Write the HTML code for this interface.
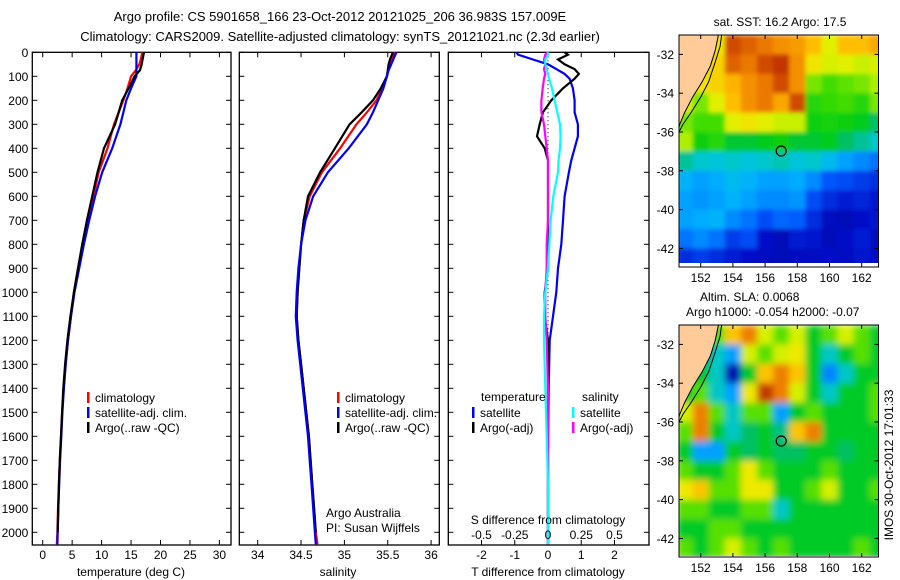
<!DOCTYPE html>
<html><head><meta charset="utf-8">
<style>
html,body{margin:0;padding:0;background:#fff;}
svg{display:block;font-family:"Liberation Sans",sans-serif;}
text{fill:#000;}
</style></head>
<body>
<svg id="fig" width="900" height="580" viewBox="0 0 900 580" xmlns="http://www.w3.org/2000/svg">
<defs>
<filter id="blurSst" x="-5%" y="-5%" width="110%" height="110%"><feGaussianBlur stdDeviation="2" edgeMode="duplicate"/></filter>
<filter id="blurSla" x="-5%" y="-5%" width="110%" height="110%"><feGaussianBlur stdDeviation="3.5" edgeMode="duplicate"/></filter>
</defs>
<text x="340" y="21" font-size="13" text-anchor="middle">Argo profile: CS 5901658_166 23-Oct-2012 20121025_206 36.983S 157.009E</text>
<text x="340" y="41" font-size="13" text-anchor="middle">Climatology: CARS2009. Satellite-adjusted climatology: synTS_20121021.nc (2.3d earlier)</text>
<g id="g1"></g>
<g id="g2"></g>
<g id="g3"></g>
<g id="m1"></g>
<g id="m2"></g>
<text x="780" y="26" font-size="12" text-anchor="middle">sat. SST: 16.2 Argo: 17.5</text>
<text x="700" y="301" font-size="12">Altim. SLA: 0.0068</text>
<text x="686" y="316" font-size="12">Argo h1000: -0.054 h2000: -0.07</text>
<text x="0" y="0" font-size="12" text-anchor="middle" transform="translate(893,465) rotate(-90)">IMOS 30-Oct-2012 17:01:33</text>
</svg>
<script>
// ---------- profile data ----------
const depths = [0,25,50,75,100,150,200,250,300,400,500,600,700,800,900,1000,1100,1200,1300,1400,1500,1600,1700,1800,1900,2000,2050];
const tempArgo = [17.2,17.0,16.8,16.5,15.6,14.6,13.5,12.9,12.3,10.4,9.3,8.4,7.5,6.7,6.0,5.3,4.7,4.2,3.8,3.5,3.3,3.1,2.9,2.75,2.65,2.55,2.5];
const tempClim = [16.9,16.7,16.4,15.8,15.0,14.4,13.7,12.9,12.1,11.0,9.5,8.6,7.6,6.8,6.0,5.3,4.8,4.3,3.9,3.55,3.3,3.1,2.9,2.75,2.6,2.5,2.4];
const tempSat  = [15.9,15.9,15.9,15.9,15.9,15.0,14.2,13.7,13.2,11.8,10.1,8.9,7.9,7.0,6.2,5.4,4.8,4.3,3.9,3.6,3.35,3.15,2.95,2.8,2.65,2.55,2.5];
const salArgo = [35.56,35.53,35.51,35.50,35.49,35.42,35.33,35.20,35.06,34.89,34.72,34.58,34.53,34.50,34.48,34.46,34.45,34.47,34.50,34.53,34.56,34.59,34.61,34.63,34.65,34.67,34.68];
const salClim = [35.58,35.55,35.52,35.50,35.49,35.44,35.37,35.26,35.14,34.95,34.74,34.60,34.53,34.50,34.48,34.46,34.45,34.47,34.50,34.53,34.56,34.59,34.61,34.63,34.65,34.67,34.69];
const salSat  = [35.60,35.57,35.54,35.51,35.49,35.45,35.39,35.33,35.26,35.05,34.81,34.64,34.55,34.50,34.47,34.45,34.44,34.46,34.49,34.52,34.55,34.58,34.60,34.62,34.64,34.66,34.67];
const diffDepths = [0,10,30,50,70,90,110,150,200,250,300,350,400,450,500,600,700,800,900,1000,1100,1200,1400,1600,1800,2000,2050];
const tDiffSat  = [-0.95,-0.9,-0.45,0.0,0.25,0.5,0.65,0.75,0.8,0.8,0.9,0.9,0.8,0.7,0.63,0.5,0.45,0.4,0.3,0.25,0.15,0.05,0.02,0.0,0.0,0.0,0.0];
const tDiffArgo = [0.5,0.6,0.3,0.5,0.8,0.93,0.8,0.45,0.1,-0.15,-0.25,-0.33,-0.1,0.0,0.0,0.0,0.0,0.0,0.0,-0.1,-0.1,0.0,0.0,0.0,0.0,0.0,0.0];
const sDiffSat  = [0.0,0.0,-0.02,-0.02,-0.01,0.0,0.01,0.03,0.05,0.07,0.09,0.095,0.09,0.08,0.075,0.04,0.02,0.01,0.0,-0.02,-0.03,-0.03,-0.02,-0.01,0.0,0.0,0.0];
const sDiffArgo = [0.0,-0.02,-0.03,-0.02,-0.03,-0.02,-0.03,-0.04,-0.05,-0.05,-0.03,-0.02,-0.01,0.0,0.0,0.0,0.0,-0.01,-0.01,-0.02,-0.02,-0.01,0.0,0.0,0.0,0.0,0.0];
const depthTicks = [0,100,200,300,400,500,600,700,800,900,1000,1100,1200,1300,1400,1500,1600,1700,1800,1900,2000];
const tempTicks = [0,5,10,15,20,25,30];
const salTicks = [34,34.5,35,35.5,36];
const tDiffTicks = [-2,-1,0,1,2];
const sDiffTicks = [-0.5,-0.25,0,0.25,0.5];
const sDiffTickLabels = ["-0.5","-0.25","0","0.25","0.5"];
// ---------- map data (1-degree cells, lon 151..163, lat -31.5..-42.5) ----------
const mapLons = [151,152,153,154,155,156,157,158,159,160,161,162,163];
const mapLats = [-31.5,-32.5,-33.5,-34.5,-35.5,-36.5,-37.5,-38.5,-39.5,-40.5,-41.5,-42.5];
const sstGrid = [
[17.5,17.5,17.8,19.2,19.0,18.8,18.6,18.5,18.2,17.6,18.2,18.2,18.4],
[17.5,17.5,18.0,19.0,18.8,19.2,19.4,18.6,17.8,17.5,17.6,17.4,17.5],
[17.5,17.8,18.0,18.3,18.6,18.8,19.2,18.6,17.0,16.8,16.9,17.0,17.2],
[17.5,17.0,17.6,18.2,18.6,18.8,18.4,19.2,16.6,16.7,16.8,16.6,17.0],
[17.0,16.8,16.8,17.6,17.8,17.6,17.4,17.4,16.4,16.5,16.4,16.3,16.0],
[17.2,16.4,16.6,16.2,16.2,16.3,16.4,16.2,16.2,16.3,16.0,15.8,15.6],
[15.8,15.6,15.5,15.6,15.5,15.6,15.7,15.5,15.6,15.3,15.0,14.8,14.6],
[15.2,15.0,15.1,15.3,15.2,15.0,15.0,15.1,14.8,14.3,14.2,14.0,13.8],
[15.0,14.9,15.0,15.2,15.0,14.8,14.8,14.9,14.2,13.8,13.6,13.7,13.5],
[15.0,15.1,15.2,14.8,14.6,14.2,14.5,14.4,13.8,13.3,13.2,13.4,13.5],
[14.6,14.8,14.6,14.0,14.2,13.4,13.2,13.6,13.5,13.2,13.4,13.6,13.3],
[13.8,14.0,13.8,13.6,13.4,13.3,13.2,13.3,13.3,13.4,13.3,13.5,13.4]];
const slaGrid = [
[0,0,0.05,0.15,0.2,0.1,0.05,0.1,0.0,0.05,0.1,0.05,0.0],
[0,0,-0.05,-0.1,0.1,0.05,0.1,0.12,0.0,-0.05,0.0,0.05,0.0],
[0,0.0,-0.05,-0.25,0.0,0.15,0.2,0.15,0.0,-0.12,-0.05,0.0,0.0],
[0,0.05,-0.05,-0.1,0.12,0.25,0.2,0.1,0.0,-0.05,0.0,0.0,0.05],
[0.1,0.2,0.05,-0.05,0.05,0.05,-0.1,0.0,0.05,0.0,0.0,0.0,0.05],
[0.05,0.2,0.0,-0.05,-0.02,0.0,-0.03,0.15,0.2,0.0,0.0,0.0,0.0],
[0.0,-0.1,-0.1,0.0,-0.02,0.0,-0.02,-0.02,0.0,0.0,-0.02,0.0,0.0],
[0.05,0.0,0.0,0.05,0.12,0.05,0.0,0.0,0.0,0.05,0.0,0.0,0.0],
[0.12,0.15,0.05,0.05,0.12,0.12,0.0,0.0,0.05,0.1,0.0,0.0,0.05],
[0.05,0.05,0.0,0.0,0.05,0.05,-0.05,0.0,0.0,0.0,0.0,0.0,0.0],
[0.0,0.0,0.05,0.05,0.0,0.0,0.0,0.0,0.0,0.0,0.0,0.0,0.0],
[0.05,0.0,0.05,0.1,0.05,0.0,0.05,0.0,0.0,0.0,0.0,0.05,0.0]];
const coastLon = [153.1,152.9,152.6,152.1,151.5,151.0,150.7,150.6,150.6];
const coastLat = [-31.0,-31.8,-32.6,-33.4,-34.2,-35.0,-35.6,-35.9,-31.0];
const shelfLon = [153.3,153.2,152.9,152.5,152.0,151.4,150.9,150.65];
const shelfLat = [-31.0,-31.6,-32.4,-33.4,-34.2,-35.0,-35.6,-36.0];
const argoLon = 157.0, argoLat = -36.98;
const lonTicks = [152,154,156,158,160,162];
const latTicks = [-32,-34,-36,-38,-40,-42];

const NS = "http://www.w3.org/2000/svg";
function el(parent, tag, attrs, txt){
  const e = document.createElementNS(NS, tag);
  for (const k in attrs) e.setAttribute(k, attrs[k]);
  if (txt !== undefined) e.textContent = txt;
  parent.appendChild(e);
  return e;
}
const T0 = 52.3, B0 = 545, PXM = 0.24;
const yD = d => T0 + d * PXM;

function panel(g, L, R, xs, ticks, labels, showDepth){
  const f = el(g,'rect',{x:L,y:T0,width:R-L,height:B0-T0,fill:'none',stroke:'#000','stroke-width':1.3});
   
  depthTicks.forEach(d=>{
    const y = yD(d);
    el(g,'line',{x1:L,x2:L+5,y1:y,y2:y,stroke:'#000'});
    el(g,'line',{x1:R-5,x2:R,y1:y,y2:y,stroke:'#000'});
    if(showDepth){
      const t = el(g,'text',{x:L-4,y:y+4.5,'font-size':12,'text-anchor':'end'}, String(d));
       
    }
  });
  ticks.forEach((v,i)=>{
    const x = xs(v);
    el(g,'line',{x1:x,x2:x,y1:T0,y2:T0+5,stroke:'#000'});
    el(g,'line',{x1:x,x2:x,y1:B0-5,y2:B0,stroke:'#000'});
    if(labels){
      const t = el(g,'text',{x:x,y:559,'font-size':12,'text-anchor':'middle'}, labels[i]);
       
    }
  });
}
function line(g, xs, vals, ds, color, name){
  const pts = vals.map((v,i)=>xs(v).toFixed(1)+','+yD(ds[i]).toFixed(1)).join(' ');
  const p = el(g,'polyline',{points:pts,fill:'none',stroke:color,'stroke-width':2.2,'stroke-linejoin':'miter'});
   
}
function legend(g, x, y, color, label){
  el(g,'rect',{x:x,y:y-9,width:2.5,height:11,fill:color});
  const t = el(g,'text',{x:x+8,y:y+1,'font-size':12}, label);
   
}

// Panel 1: temperature
const g1 = document.getElementById('g1');
const xT = v => 42.7 + v * 5.89;
panel(g1, 32.3, 231, xT, tempTicks, tempTicks.map(String), true);
line(g1, xT, tempClim, depths, '#ff0000', 'temp-climatology-line');
line(g1, xT, tempSat, depths, '#0000ff', 'temp-satellite-line');
line(g1, xT, tempArgo, depths.slice(0,26), '#000000', 'temp-argo-line');
legend(g1, 87, 401, '#ff0000', 'climatology');
legend(g1, 87, 416, '#0000ff', 'satellite-adj. clim.');
legend(g1, 87, 431, '#000000', 'Argo(..raw -QC)');
let t = el(g1,'text',{x:131,y:576,'font-size':12,'text-anchor':'middle'},'temperature (deg C)');
 

// Panel 2: salinity
const g2 = document.getElementById('g2');
const xS = v => 257.7 + (v - 34) * 86.7;
panel(g2, 239.3, 439.3, xS, salTicks, salTicks.map(String), false);
line(g2, xS, salClim, depths, '#ff0000', 'sal-climatology-line');
line(g2, xS, salArgo, depths.slice(0,26), '#000000', 'sal-argo-line');
line(g2, xS, salSat, depths, '#0000ff', 'sal-satellite-line');
legend(g2, 337, 401, '#ff0000', 'climatology');
legend(g2, 337, 416, '#0000ff', 'satellite-adj. clim.');
legend(g2, 337, 431, '#000000', 'Argo(..raw -QC)');
t = el(g2,'text',{x:326,y:517,'font-size':12},'Argo Australia');
 
t = el(g2,'text',{x:326,y:532,'font-size':12},'PI: Susan Wijffels');
 
t = el(g2,'text',{x:338,y:576,'font-size':12,'text-anchor':'middle'},'salinity');
 

// Panel 3: differences
const g3 = document.getElementById('g3');
const xDT = v => 548 + v * 33.25;
const xDS = v => 548 + v * 133;
panel(g3, 448.3, 649, xDT, tDiffTicks, tDiffTicks.map(String), false);
el(g3,'line',{x1:548,x2:548,y1:T0,y2:B0,stroke:'#000','stroke-dasharray':'1,3','stroke-width':1});
line(g3, xDT, tDiffSat, diffDepths, '#0000ff', 'tdiff-satellite-line');
line(g3, xDT, tDiffArgo, diffDepths, '#000000', 'tdiff-argo-line');
line(g3, xDS, sDiffArgo, diffDepths, '#ff00ff', 'sdiff-argo-line');
line(g3, xDS, sDiffSat, diffDepths, '#00ffff', 'sdiff-satellite-line');
sDiffTicks.forEach((v,i)=>{
  const tt = el(g3,'text',{x:xDS(v),y:539,'font-size':12,'text-anchor':'middle'}, sDiffTickLabels[i]);
   
});
t = el(g3,'text',{x:548,y:524,'font-size':12,'text-anchor':'middle'},'S difference from climatology');
 
t = el(g3,'text',{x:548,y:576,'font-size':12,'text-anchor':'middle'},'T difference from climatology');
 
t = el(g3,'text',{x:481,y:401,'font-size':12},'temperature');
 
t = el(g3,'text',{x:582,y:401,'font-size':12},'salinity');
 
legend(g3, 472, 416, '#0000ff', 'satellite');
legend(g3, 472, 431, '#000000', 'Argo(-adj)');
legend(g3, 572, 416, '#00ffff', 'satellite');
legend(g3, 572, 431, '#ff00ff', 'Argo(-adj)');

// ---------- maps ----------
const stops = [[0,[0,0,130]],[0.12,[0,16,200]],[0.25,[0,90,255]],[0.35,[0,175,255]],[0.41,[0,200,210]],[0.46,[0,190,110]],[0.51,[0,205,20]],[0.57,[60,220,0]],[0.63,[180,240,0]],[0.69,[235,240,0]],[0.76,[255,190,0]],[0.83,[240,130,0]],[0.91,[200,60,0]],[1,[150,0,0]]];
function cmap(f){
  f = Math.max(0, Math.min(1, f));
  for(let i=1;i<stops.length;i++){
    if(f<=stops[i][0]){
      const a=stops[i-1], b=stops[i], r=(f-a[0])/(b[0]-a[0]);
      const c=a[1].map((v,k)=>Math.round(v+(b[1][k]-v)*r));
      return 'rgb('+c.join(',')+')';
    }
  }
  return 'rgb(150,0,0)';
}
function drawMap(g, top, dataBottom, grid, vmin, vmax, name, blurId){
  const L = 679, R = 878.5, lonPx = 16.1, latPx = 19.4;
  const xL = lon => 700.7 + (lon - 152) * lonPx;
  const yL = lat => top + (-31 - lat) * latPx;
  const clipId = 'clip' + name;
  const cp = el(g,'clipPath',{id:clipId});
  el(cp,'rect',{x:L,y:top,width:R-L,height:dataBottom-top});
  const outer = el(g,'g',{'clip-path':'url(#'+clipId+')'});
  const cg = el(outer,'g',{filter:'url(#'+blurId+')'});
  grid.forEach((row,ri)=>row.forEach((v,ci)=>{
    const c = el(cg,'rect',{x:xL(mapLons[ci]-0.5),y:yL(mapLats[ri]+0.5),width:lonPx+0.6,height:latPx+0.6,fill:cmap((v-vmin)/(vmax-vmin))});
     
  }));
  const land = el(outer,'polygon',{points:coastLon.map((lo,i)=>xL(lo)+','+yL(coastLat[i])).join(' ')+' '+L+','+top,fill:'#ffcc99',stroke:'#000','stroke-width':1});
   
  el(outer,'polyline',{points:shelfLon.map((lo,i)=>xL(lo)+','+yL(shelfLat[i])).join(' '),fill:'none',stroke:'#000','stroke-width':1});
  const bottom = name==='sst'?267:557;
  const fr = el(g,'rect',{x:L,y:top,width:R-L,height:bottom-top,fill:'none',stroke:'#000','stroke-width':1});
   
  lonTicks.forEach(lo=>{
    const x = xL(lo);
    el(g,'line',{x1:x,x2:x,y1:top,y2:top+4,stroke:'#000'});
    el(g,'line',{x1:x,x2:x,y1:bottom-4,y2:bottom,stroke:'#000'});
    const tt = el(g,'text',{x:x,y:bottom+15,'font-size':12,'text-anchor':'middle'}, String(lo));
     
  });
  latTicks.forEach(la=>{
    const y = yL(la);
    el(g,'line',{x1:L,x2:L+4,y1:y,y2:y,stroke:'#000'});
    el(g,'line',{x1:R-4,x2:R,y1:y,y2:y,stroke:'#000'});
    const tt = el(g,'text',{x:L-5,y:y+4.5,'font-size':12,'text-anchor':'end'}, String(la));
     
  });
  const m = el(g,'circle',{cx:xL(argoLon),cy:yL(argoLat),r:5,fill:'none',stroke:'#000','stroke-width':1.2});
   
}
drawMap(document.getElementById('m1'), 35, 263, sstGrid, 12.5, 20, 'sst', 'blurSst');
drawMap(document.getElementById('m2'), 325, 556, slaGrid, -0.3, 0.3, 'sla', 'blurSla');
</script>
</body></html>
